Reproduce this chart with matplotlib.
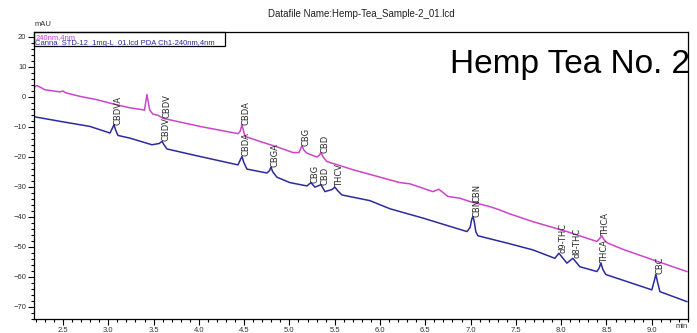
import numpy as np
import matplotlib.pyplot as plt
from matplotlib.patches import Rectangle
from matplotlib.ticker import MultipleLocator

plt.rcParams['font.family'] = ['Liberation Sans', 'DejaVu Sans']

# Sample trace (240 nm), retention time in min and absorbance in mAU
sample_t = [2.169, 2.213, 2.24, 2.301, 2.467, 2.50, 2.53, 2.688, 2.875, 3.052,
            3.240, 3.372, 3.400, 3.415, 3.427, 3.440, 3.458, 3.493, 3.549, 3.604,
            4.012, 4.432, 4.455, 4.476, 4.492, 4.509, 4.674, 4.873, 5.039, 5.105,
            5.122, 5.138, 5.160, 5.193, 5.303, 5.330, 5.348, 5.370, 5.414, 5.701,
            6.109, 6.220, 6.330, 6.584, 6.650, 6.749, 6.882, 6.992, 7.213, 7.323,
            7.412, 7.688, 8.063, 8.394, 8.425, 8.449, 8.470, 8.504, 8.681, 9.012,
            9.387]
sample_mau = [3.1, 3.7, 3.3, 2.3, 1.6, 1.9, 1.3, 0.1, -1.0, -2.4,
              -3.7, -4.3, -4.5, -1.5, 0.7, -1.5, -4.5, -5.8, -6.2, -7.2,
              -9.9, -12.3, -11.6, -9.3, -11.2, -13.2, -14.9, -16.8, -18.6, -18.6,
              -17.5, -16.3, -17.8, -18.8, -20.1, -19.5, -18.6, -20.0, -21.6, -24.3,
              -27.7, -28.6, -29.0, -31.6, -30.8, -33.2, -33.8, -34.9, -36.6, -37.7,
              -38.8, -41.6, -44.9, -48.2, -47.2, -46.3, -47.5, -48.6, -50.8, -54.3,
              -58.2]

# Standard mix trace (Canna STD-12)
std_t = [2.169, 2.467, 2.798, 3.019, 3.045, 3.063, 3.080, 3.107, 3.240, 3.482,
         3.560, 3.593, 3.615, 3.648, 4.012, 4.432, 4.458, 4.476, 4.495, 4.531,
         4.752, 4.780, 4.796, 4.815, 4.862, 5.005, 5.193, 5.237, 5.281, 5.348,
         5.392, 5.470, 5.502, 5.530, 5.579, 5.888, 6.109, 6.473, 6.960, 6.995,
         7.012, 7.025, 7.040, 7.058, 7.081, 7.412, 7.688, 7.930, 7.975, 8.063,
         8.129, 8.206, 8.394, 8.420, 8.438, 8.460, 8.493, 9.001, 9.030, 9.045,
         9.062, 9.090, 9.387]
std_mau = [-6.6, -8.2, -9.9, -12.1, -10.5, -9.3, -11.0, -12.9, -13.8, -16.0,
           -15.6, -14.9, -16.0, -17.4, -19.9, -22.7, -21.0, -19.9, -21.8, -24.1,
           -25.4, -24.6, -23.4, -25.0, -26.8, -28.6, -29.7, -28.6, -30.1, -29.3,
           -31.6, -30.9, -30.1, -31.2, -32.7, -34.6, -37.3, -40.4, -44.9, -43.5,
           -40.8, -39.9, -41.5, -45.0, -46.3, -48.8, -51.0, -53.8, -52.1, -55.4,
           -53.8, -56.6, -58.2, -57.0, -55.3, -57.5, -59.2, -64.3, -61.0, -59.1,
           -61.5, -64.9, -68.2]

# Peak identifications: (name, retention time, mAU at label)
sample_peaks = [('CBDV', 3.604, -7.2), ('CBDA', 4.476, -9.3), ('CBG', 5.138, -16.3),
                ('CBD', 5.348, -18.6), ('CBN', 7.025, -35.1), ('THCA', 8.449, -46.3)]
std_peaks = [('CBDVA', 3.063, -9.3), ('CBDV', 3.593, -14.9), ('CBDA', 4.476, -19.9),
             ('CBGA', 4.796, -23.4), ('CBG', 5.237, -28.6), ('CBD', 5.348, -29.3),
             ('THCV', 5.502, -30.1), ('CBN', 7.025, -39.9), ('d9-THC', 7.975, -52.1),
             ('d8-THC', 8.129, -53.8), ('THCA', 8.438, -55.3), ('CBC', 9.045, -59.1)]

sample_color = '#cc44cc'
std_color = '#2b2b9e'

fig = plt.figure(figsize=(6.97, 3.33), dpi=100)
ax = fig.add_axes([34 / 697, 1 - 319 / 333, 654 / 697, 287.5 / 333])

ax.plot(sample_t, sample_mau, color=sample_color, lw=1.1)
ax.plot(std_t, std_mau, color=std_color, lw=1.1)

for name, t, y in sample_peaks + std_peaks:
    ax.annotate(name, xy=(t, y), xytext=(3, 0), textcoords='offset points',
                rotation=90, ha='center', va='bottom', fontsize=6,
                color='#2a2a2a', family='DejaVu Sans')

ax.set_xlim(2.18, 9.40)
ax.set_ylim(-74, 21.7)
ax.xaxis.set_minor_locator(MultipleLocator(0.1))
ax.yaxis.set_major_locator(MultipleLocator(10))
ax.yaxis.set_minor_locator(MultipleLocator(2))
ax.set_xticks(np.arange(2.5, 9.01, 0.5))
ax.set_xticklabels(['%.1f' % v for v in np.arange(2.5, 9.01, 0.5)])
ax.tick_params(which='major', direction='out', length=4, width=0.8,
               labelsize=5.5, labelcolor='#333333', pad=1.5)
ax.tick_params(which='minor', direction='out', length=2.5, width=0.8)
for sp in ax.spines.values():
    sp.set_linewidth(0.9)

# channel legend box in the top-left corner
ax.add_patch(Rectangle((0, 0.951), 0.292, 0.049, transform=ax.transAxes,
                       fill=False, edgecolor='black', lw=0.9, clip_on=False))
ax.text(0.002, 0.992, '240nm,4nm', transform=ax.transAxes, fontsize=5.5,
        color=sample_color, va='top')
ax.text(0.002, 0.972, 'Canna_STD-12_1mg-L_01.lcd PDA Ch1-240nm,4nm',
        transform=ax.transAxes, fontsize=5.5, color=std_color, va='top')

fig.text(35 / 697, 1 - 25 / 333, 'mAU', fontsize=5.5, color='#333333', va='center')
fig.text(676 / 697, 1 - 326 / 333, 'min', fontsize=5.5, color='#333333', va='center')
fig.text(361 / 697, 1 - 14 / 333, 'Datafile Name:Hemp-Tea_Sample-2_01.lcd',
         fontsize=7, color='#222222', ha='center', va='center')
fig.text(690 / 697, 1 - 73 / 333, 'Hemp Tea No. 2', fontsize=24,
         color='black', ha='right', va='baseline')

plt.savefig('out.png', dpi=100)
